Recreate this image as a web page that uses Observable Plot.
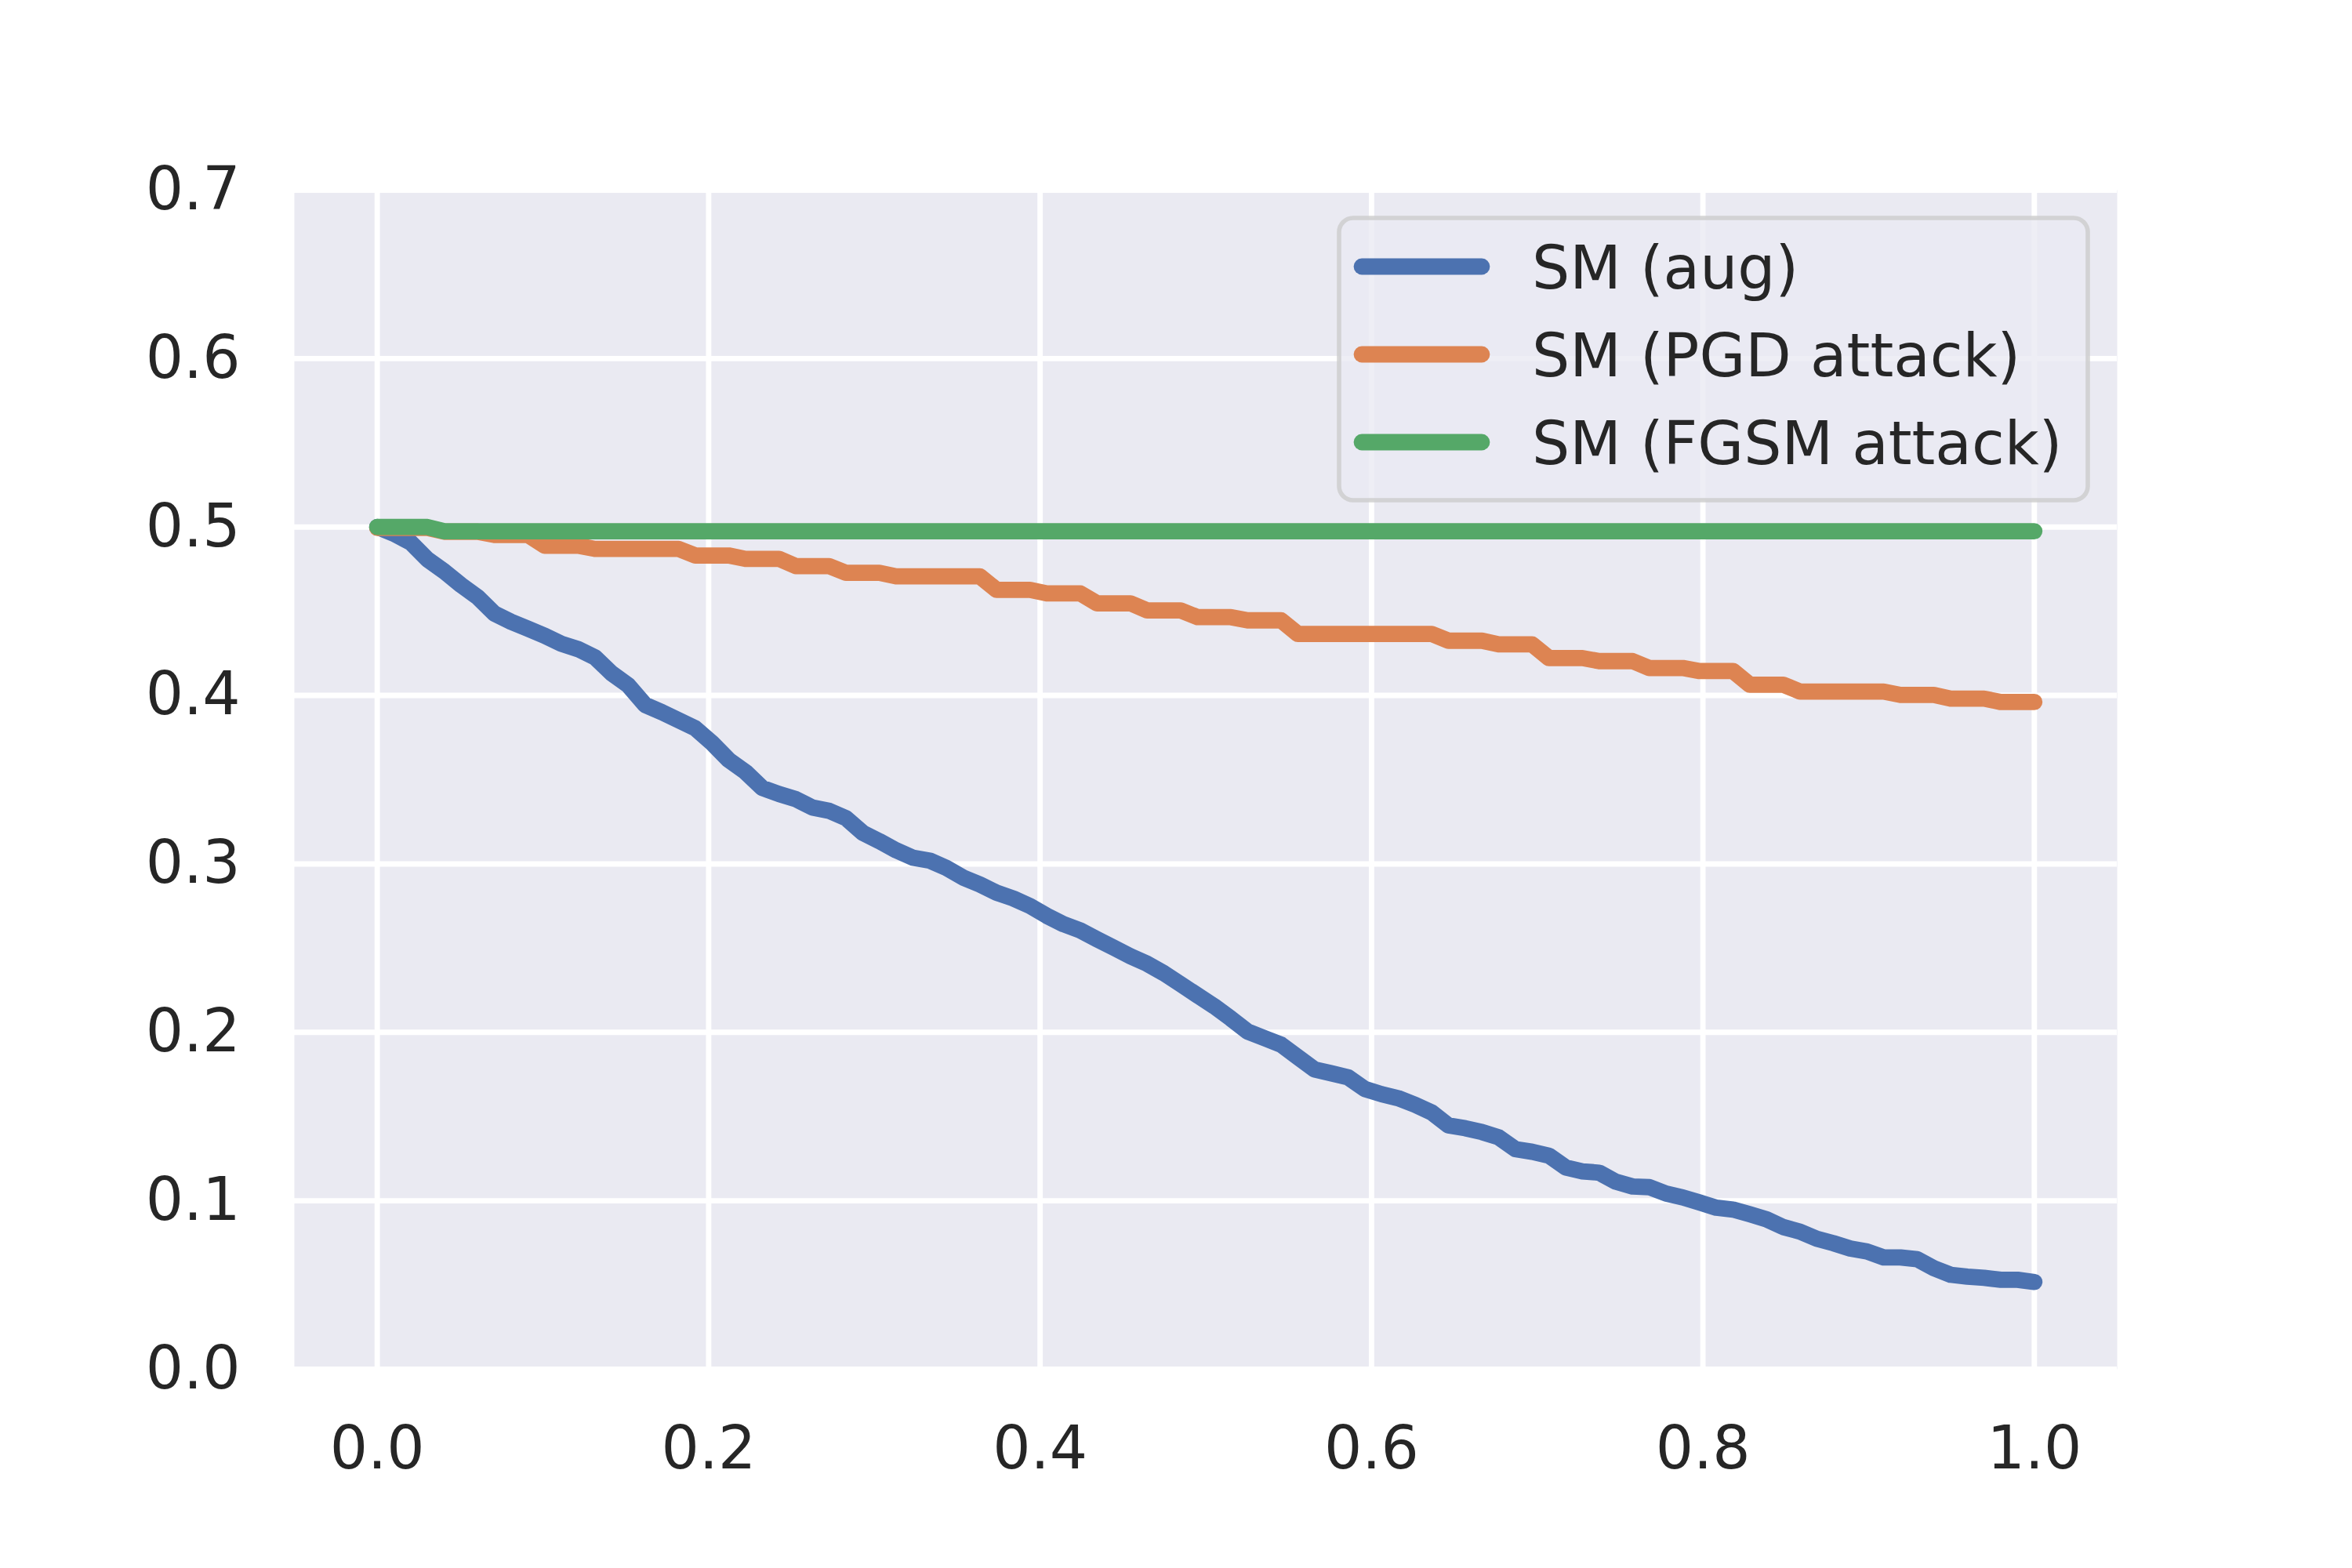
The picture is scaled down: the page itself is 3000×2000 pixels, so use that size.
<!DOCTYPE html>
<html>
<head>
<meta charset="utf-8">
<script src="https://cdn.jsdelivr.net/npm/d3@7"></script>
<script src="https://cdn.jsdelivr.net/npm/@observablehq/plot@0.6"></script>
<style>
  html, body { margin: 0; padding: 0; background: #ffffff; }
  #chart svg { display: block; }
</style>
</head>
<body>
<div id="chart"></div>
<script>
// ---- data ----
const seriesNames = ["SM (aug)", "SM (PGD attack)", "SM (FGSM attack)"];
const seriesColors = ["#4C72B0", "#DD8452", "#55A868"];

// sample positions: 100 evenly spaced points from 0 to 1
const nPoints = 100;
const xValues = d3.range(nPoints).map(i => i / (nPoints - 1));

const smAug = [
  0.500, 0.496, 0.4908, 0.4808, 0.4737, 0.4656, 0.4584, 0.4486, 0.4437, 0.4396,
  0.4355, 0.4307, 0.4275, 0.4227, 0.4132, 0.406, 0.3944, 0.3901, 0.3853, 0.3805,
  0.3718, 0.3617, 0.3546, 0.3451, 0.3415, 0.3385, 0.3335, 0.3315, 0.3272, 0.3185,
  0.3135, 0.3081, 0.3037, 0.302, 0.2976, 0.2919, 0.2878, 0.2829, 0.2795, 0.275,
  0.2692, 0.2642, 0.2605, 0.2553, 0.2503, 0.2452, 0.2407, 0.2351, 0.2286, 0.222,
  0.2155, 0.2082, 0.2005, 0.1966, 0.1927, 0.1853, 0.178, 0.1757, 0.1733, 0.1664,
  0.1633, 0.1609, 0.157, 0.1524, 0.1447, 0.1431, 0.1408, 0.1377, 0.1307, 0.1291,
  0.1268, 0.1198, 0.1175, 0.1167, 0.1113, 0.1085, 0.1081, 0.1043, 0.102, 0.099,
  0.0959, 0.0948, 0.092, 0.089, 0.0844, 0.0817, 0.0775, 0.0748, 0.0717, 0.0699,
  0.0664, 0.0664, 0.0653, 0.06, 0.0561, 0.055, 0.0543, 0.0531, 0.0531, 0.0518
];

const smPGD = [
  0.4995, 0.4995, 0.4995, 0.4995, 0.4972, 0.4972, 0.4972, 0.4953, 0.4953, 0.4953,
  0.4889, 0.4889, 0.4889, 0.487, 0.487, 0.487, 0.487, 0.487, 0.487, 0.4831,
  0.4831, 0.4831, 0.4811, 0.4811, 0.4811, 0.4768, 0.4768, 0.4768, 0.4728, 0.4728,
  0.4728, 0.4707, 0.4707, 0.4707, 0.4707, 0.4707, 0.4707, 0.4627, 0.4627, 0.4627,
  0.4606, 0.4606, 0.4606, 0.4547, 0.4547, 0.4547, 0.4505, 0.4505, 0.4505, 0.4465,
  0.4465, 0.4465, 0.4446, 0.4446, 0.4446, 0.4365, 0.4365, 0.4365, 0.4365, 0.4365,
  0.4365, 0.4365, 0.4365, 0.4365, 0.4325, 0.4325, 0.4325, 0.4303, 0.4303, 0.4303,
  0.4222, 0.4222, 0.4222, 0.4204, 0.4204, 0.4204, 0.4163, 0.4163, 0.4163, 0.4145,
  0.4145, 0.4145, 0.4064, 0.4064, 0.4064, 0.4023, 0.4023, 0.4023, 0.4023, 0.4023,
  0.4023, 0.4003, 0.4003, 0.4003, 0.3981, 0.3981, 0.3981, 0.3961, 0.3961, 0.3961
];

const smFGSM = [
  0.500, 0.500, 0.500, 0.500, 0.4975, 0.4975, 0.4975, 0.4975, 0.4975, 0.4975,
  0.4975, 0.4975, 0.4975, 0.4975, 0.4975, 0.4975, 0.4975, 0.4975, 0.4975, 0.4975,
  0.4975, 0.4975, 0.4975, 0.4975, 0.4975, 0.4975, 0.4975, 0.4975, 0.4975, 0.4975,
  0.4975, 0.4975, 0.4975, 0.4975, 0.4975, 0.4975, 0.4975, 0.4975, 0.4975, 0.4975,
  0.4975, 0.4975, 0.4975, 0.4975, 0.4975, 0.4975, 0.4975, 0.4975, 0.4975, 0.4975,
  0.4975, 0.4975, 0.4975, 0.4975, 0.4975, 0.4975, 0.4975, 0.4975, 0.4975, 0.4975,
  0.4975, 0.4975, 0.4975, 0.4975, 0.4975, 0.4975, 0.4975, 0.4975, 0.4975, 0.4975,
  0.4975, 0.4975, 0.4975, 0.4975, 0.4975, 0.4975, 0.4975, 0.4975, 0.4975, 0.4975,
  0.4975, 0.4975, 0.4975, 0.4975, 0.4975, 0.4975, 0.4975, 0.4975, 0.4975, 0.4975,
  0.4975, 0.4975, 0.4975, 0.4975, 0.4975, 0.4975, 0.4975, 0.4975, 0.4975, 0.4975
];

const xTicks = [0.0, 0.2, 0.4, 0.6, 0.8, 1.0];
const yTicks = [0.0, 0.1, 0.2, 0.3, 0.4, 0.5, 0.6, 0.7];

// ---- build table ----
const allSeries = [smAug, smPGD, smFGSM];
const rows = [];
seriesNames.forEach((name, s) => {
  xValues.forEach((x, i) => rows.push({x, y: allSeries[s][i], series: name}));
});

const fmt = d3.format(".1f");
const FONT = 76;
const TEXT = "#262626";
const LW = 20.8;

const chart = Plot.plot({
  width: 3000,
  height: 2000,
  marginLeft: 375,
  marginRight: 300,
  marginTop: 242,
  marginBottom: 254,
  style: {
    background: "#ffffff",
    fontFamily: "'DejaVu Sans', sans-serif",
    fontSize: FONT + "px",
    color: TEXT,
    maxWidth: "none"
  },
  x: {domain: [-0.05, 1.05], label: null},
  y: {domain: [0, 0.7], label: null},
  color: {domain: seriesNames, range: seriesColors},
  marks: [
    Plot.frame({fill: "#EAEAF2", stroke: null}),
    Plot.gridX(xTicks, {stroke: "#ffffff", strokeOpacity: 1, strokeWidth: 6.9}),
    Plot.gridY(yTicks, {stroke: "#ffffff", strokeOpacity: 1, strokeWidth: 6.9}),
    Plot.line(rows, {
      x: "x", y: "y", z: "series", stroke: "series",
      strokeWidth: LW, strokeLinecap: "round", strokeLinejoin: "round"
    }),
    Plot.axisX(xTicks, {
      tickSize: 0, tickPadding: 73, tickFormat: fmt, label: null,
      fontSize: FONT, fill: TEXT
    }),
    Plot.axisY(yTicks, {
      tickSize: 0, tickPadding: 69, tickFormat: fmt, label: null,
      fontSize: FONT, fill: TEXT
    })
  ]
});

document.getElementById("chart").appendChild(chart);

// ---- legend (inside the plot, upper right) ----
const svg = d3.select(chart);
const lg = svg.append("g").attr("class", "legend").attr("text-anchor", "start");
lg.append("rect")
  .attr("x", 1708).attr("y", 278)
  .attr("width", 955).attr("height", 360)
  .attr("rx", 18).attr("ry", 18)
  .attr("fill", "#EAEAF2").attr("fill-opacity", 0.8)
  .attr("stroke", "#cccccc").attr("stroke-opacity", 0.8)
  .attr("stroke-width", 5.6);

const rowY = [340, 452, 564];
seriesNames.forEach((name, i) => {
  lg.append("line")
    .attr("x1", 1737).attr("x2", 1890)
    .attr("y1", rowY[i]).attr("y2", rowY[i])
    .attr("stroke", seriesColors[i])
    .attr("stroke-width", LW)
    .attr("stroke-linecap", "round");
  lg.append("text")
    .attr("x", 1954).attr("y", rowY[i] + 28)
    .attr("text-anchor", "start")
    .attr("font-family", "'DejaVu Sans', sans-serif")
    .attr("font-size", FONT)
    .attr("fill", TEXT)
    .text(name);
});
</script>
</body>
</html>
